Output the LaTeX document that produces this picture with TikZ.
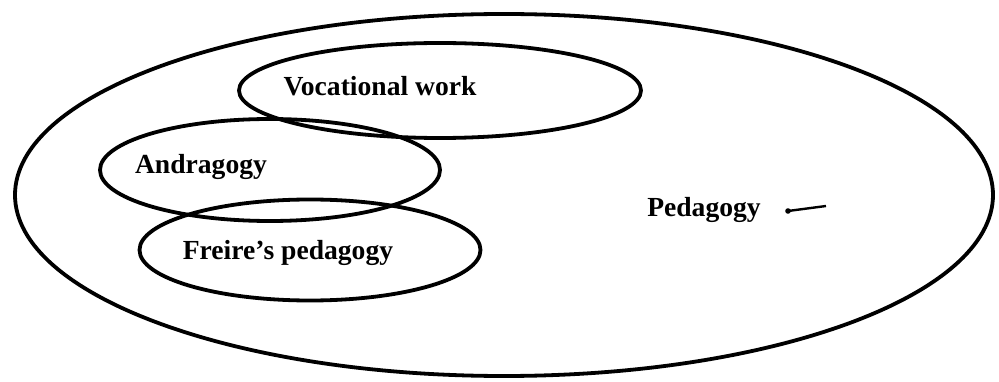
\documentclass[tikz,border=0pt]{standalone}
\usepackage{fontspec}
\setmainfont{Liberation Serif}
\usetikzlibrary{shapes.geometric}
\begin{document}
\begin{tikzpicture}[x=1pt,y=-1pt,
  ring/.style={draw=black,line width=3.8pt,ellipse,inner sep=0pt},
  lbl/.style={font=\fontsize{27.6}{32}\selectfont\bfseries,inner sep=0pt,anchor=center}]
\useasboundingbox (0,0) rectangle (999,382);
\node[ring,minimum width=978pt,minimum height=362pt] (ped) at (504,195) {};
\node[ring,minimum width=402pt,minimum height=95pt] (voc) at (440,90.5) {};
\node[ring,minimum width=340pt,minimum height=102pt] (and) at (270,170) {};
\node[ring,minimum width=341pt,minimum height=101pt] (fre) at (310,250) {};
\node[lbl] (tvoc) at (380,86) {Vocational work};
\node[lbl] (tand) at (201,167) {Andragogy};
\node[lbl] (tfre) at (288,253) {Freire’s pedagogy};
\node[lbl] (tped) at (704,210) {Pedagogy};
\coordinate (m1) at (788,211);
\coordinate (m2) at (826,206);
\draw[line width=2.4pt] (m1) -- (m2);
\fill (m1) circle (2.8pt);
\end{tikzpicture}
\end{document}
